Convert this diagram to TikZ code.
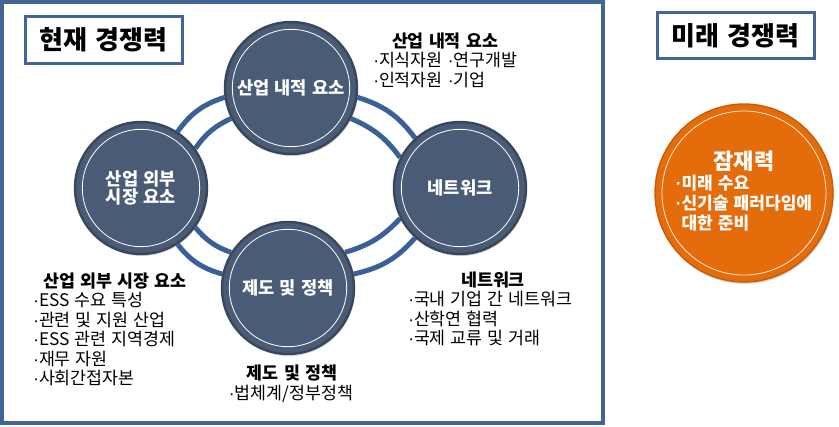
\documentclass[tikz,border=0pt]{standalone}
\usepackage{fontspec}
\setmainfont[WordSpace=1.3]{Noto Sans CJK KR}
\newfontfamily\dotfont{Liberation Sans}
\usetikzlibrary{shadows,backgrounds}
\definecolor{frameblue}{RGB}{66,101,146}
\definecolor{ringblue}{RGB}{58,96,152}
\definecolor{slate}{RGB}{74,91,117}
\definecolor{slatedark}{RGB}{58,70,89}
\definecolor{potorange}{RGB}{228,108,10}
\newcommand{\mdot}{{\dotfont ·}}
\newcommand{\listhead}[1]{\multicolumn{1}{@{}c@{}}{\fontsize{16.5}{19}\selectfont #1}}
\tikzset{
  factor/.style={circle, fill=slate, draw=slatedark, line width=1.8pt, minimum size=99pt, inner sep=0pt,
    text=white, align=center, font=\bfseries\fontsize{13.2}{13}\selectfont,
    drop shadow={opacity=0.3, shadow xshift=0.6pt, shadow yshift=-1.5pt},
    path picture={\draw[white, line width=0.6pt] (path picture bounding box.center) circle (44pt);}},
  potential/.style={circle, fill=potorange, draw=potorange!85!black, line width=1pt, minimum size=133.5pt, inner sep=0pt,
    text=white, font=\bfseries\fontsize{12.8}{13.9}\selectfont,
    drop shadow={opacity=0.3, shadow xshift=0.6pt, shadow yshift=-1.5pt},
    path picture={\draw[white!85!potorange, line width=0.6pt] (path picture bounding box.center) circle (61.5pt);}},
  ring/.style={draw=ringblue, line width=3.75pt},
  titlebox/.style={draw=frameblue, line width=2.25pt, fill=white, minimum width=117.75pt, minimum height=34.5pt,
    font=\bfseries\fontsize{19.5}{22}\selectfont},
  notehead/.style={font=\bfseries\fontsize{13}{14.6}\selectfont, inner sep=0pt},
  notelist/.style={font=\fontsize{13}{14.6}\selectfont, align=left, inner sep=0pt, anchor=north west}
}
\begin{document}
\begin{tikzpicture}[x=0.75pt, y=0.75pt]
\useasboundingbox (0,0) rectangle (839,426);
\draw[frameblue, line width=3pt] (2,3) rectangle (603,424);

\node[titlebox] (nowtitle) at (103.5,386) {현재 경쟁력};
\node[titlebox] (futuretitle) at (735.5,390.5) {미래 경쟁력};

\node[factor] (inner) at (291,338) {산업 내적 요소};
\node[factor] (outer) at (141,238) {산업 외부\\시장 요소};
\node[factor] (policy) at (288,138) {제도 및 정책};
\node[factor] (network) at (460,238) {네트워크};

\begin{scope}[on background layer]
\draw[ring] (inner.188) to[bend right=18] (outer.57);
\draw[ring] (inner.207) to[bend right=15] (outer.36);
\draw[ring] (inner.352) to[bend left=18] (network.132);
\draw[ring] (inner.333) to[bend left=15] (network.153);
\draw[ring] (outer.303) to[bend right=18] (policy.168);
\draw[ring] (outer.324) to[bend right=15] (policy.148);
\draw[ring] (policy.12) to[bend right=18] (network.228);
\draw[ring] (policy.32) to[bend right=15] (network.207);
\end{scope}

\node[notehead] (innerhead) at (445,385) {산업 내적 요소};
\node[notelist] (innerlist) at (373,374) {\mdot 지식자원 \mdot 연구개발\\\mdot 인적자원 \mdot 기업};

\node[notehead] (outerhead) at (115,145) {산업 외부 시장 요소};
\node[notelist] (outerlist) at (33,134) {\mdot ESS 수요 특성\\\mdot 관련 및 지원 산업\\\mdot ESS 관련 지역경제\\\mdot 재무 자원\\\mdot 사회간접자본};

\node[notehead] (nethead) at (493,146) {네트워크};
\node[notelist] (netlist) at (408,135) {\mdot 국내 기업 간 네트워크\\\mdot 산학연 협력\\\mdot 국제 교류 및 거래};

\node[notehead] (policyhead) at (292,53) {제도 및 정책};
\node[notehead, font=\fontsize{13}{14.6}\selectfont] (policylist) at (291,32) {\mdot 법체계/정부정책};

\node[potential] (future) at (744,233) {\begin{tabular}{@{}l@{}}
\listhead{잠재력}\\
\mdot 미래 수요\\
\mdot 신기술 패러다임에\\
\phantom{\mdot}대한 준비
\end{tabular}};
\end{tikzpicture}
\end{document}
